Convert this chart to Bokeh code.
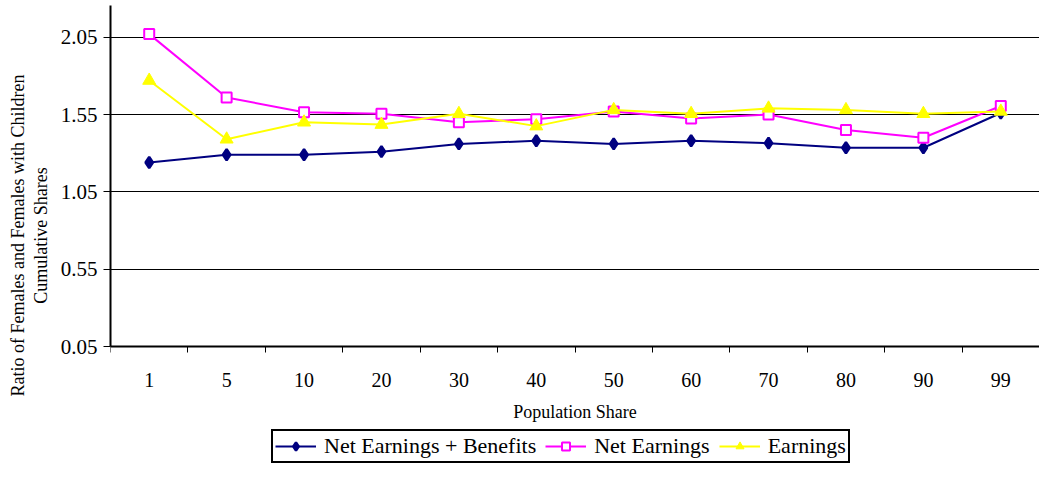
from bokeh.plotting import figure
from bokeh.models import (Range1d, FixedTicker, Legend, LegendItem, LinearAxis,
                          ColumnDataSource, PrintfTickFormatter)
from bokeh.embed import file_html
from bokeh.resources import INLINE

# ---- data ----
categories = ["1", "5", "10", "20", "30", "40", "50", "60", "70", "80", "90", "99"]
net_earnings_benefits = [1.24, 1.29, 1.29, 1.31, 1.36, 1.38, 1.36, 1.38, 1.365, 1.335, 1.335, 1.56]
net_earnings = [2.07, 1.66, 1.565, 1.555, 1.50, 1.52, 1.57, 1.525, 1.55, 1.45, 1.40, 1.605]
earnings = [1.77, 1.39, 1.50, 1.485, 1.555, 1.475, 1.58, 1.555, 1.59, 1.58, 1.555, 1.57]
y_ticks = [0.05, 0.55, 1.05, 1.55, 2.05]
series_names = ["Net Earnings + Benefits", "Net Earnings", "Earnings"]
y_title_lines = ["Ratio of Females and Females with Children", "Cumulative Shares"]
x_title = "Population Share"

FONT = "Liberation Serif"
Y_MIN, Y_MAX = 0.05, 2.255
# extra room below the axis (inside the frame) for tick labels, title and legend
Y_LOW = Y_MIN - 119.0 / ((346 - 5) / (Y_MAX - Y_MIN))

x_pos = [i + 0.5 for i in range(len(categories))]
src = ColumnDataSource(dict(x=x_pos, neb=net_earnings_benefits, ne=net_earnings, e=earnings))

p = figure(width=1039, height=465, x_range=Range1d(0, len(categories)),
           y_range=Range1d(Y_LOW, Y_MAX), output_backend="svg", toolbar_location=None,
           min_border_left=110, min_border_right=0, min_border_top=5, min_border_bottom=0,
           outline_line_color=None, background_fill_color="white")

# x axis pinned at the bottom of the value range
xa = p.xaxis[0]
xa.fixed_location = Y_MIN
xa.ticker = FixedTicker(ticks=x_pos, minor_ticks=list(range(len(categories) + 1)))
xa.major_label_overrides = {x: c for x, c in zip(x_pos, categories)}
xa.major_tick_out = 0
xa.major_tick_in = 0
xa.minor_tick_out = 6
xa.minor_tick_in = 0
xa.minor_tick_line_color = "black"
xa.minor_tick_line_width = 1
xa.major_label_standoff = 20
xa.major_label_text_font = FONT
xa.major_label_text_font_size = "20px"
xa.major_label_text_color = "black"
xa.axis_line_color = "black"
xa.axis_line_width = 2
xa.axis_label = x_title
xa.axis_label_text_font = FONT
xa.axis_label_text_font_size = "18px"
xa.axis_label_text_font_style = "normal"
xa.axis_label_text_color = "black"
xa.axis_label_standoff = 12

ya = p.yaxis[0]
ya.bounds = (Y_MIN, Y_MAX)
ya.ticker = FixedTicker(ticks=y_ticks, minor_ticks=[])
ya.formatter = PrintfTickFormatter(format="%.2f")
ya.major_tick_out = 7
ya.major_tick_in = 0
ya.major_tick_line_color = "black"
ya.major_tick_line_width = 1
ya.major_label_standoff = 6
ya.major_label_text_font = FONT
ya.major_label_text_font_size = "21px"
ya.major_label_text_color = "black"
ya.axis_line_color = "black"
ya.axis_line_width = 2
ya.axis_label = y_title_lines[1]
ya.axis_label_text_font = FONT
ya.axis_label_text_font_size = "18px"
ya.axis_label_text_font_style = "normal"
ya.axis_label_text_color = "black"
ya.axis_label_standoff = 7

# outer line of the y title: an axis without ticks
ya2 = LinearAxis(ticker=FixedTicker(ticks=[], minor_ticks=[]), bounds=(Y_MIN, Y_MAX),
                 axis_line_color=None, major_tick_line_color=None, minor_tick_line_color=None,
                 major_label_text_font_size="0px", major_tick_out=0, major_label_standoff=0,
                 axis_label=y_title_lines[0], axis_label_text_font=FONT,
                 axis_label_text_font_size="18px", axis_label_text_font_style="normal",
                 axis_label_text_color="black", axis_label_standoff=0)
p.add_layout(ya2, "left")

p.xgrid.grid_line_color = None
p.ygrid.grid_line_color = "black"
p.ygrid.grid_line_width = 1

# series
l1 = p.line("x", "neb", source=src, line_color="#000080", line_width=2)
m1 = p.scatter("x", "neb", source=src, marker="diamond", size=11,
               fill_color="#000080", line_color="#000080", line_width=2.5)
l2 = p.line("x", "ne", source=src, line_color="#FF00FF", line_width=2)
m2 = p.scatter("x", "ne", source=src, marker="square", size=10,
               fill_color="white", line_color="#FF00FF", line_width=2)
l3 = p.line("x", "e", source=src, line_color="#FFFF00", line_width=2)
m3 = p.scatter("x", "e", source=src, marker="triangle", size=13,
               fill_color="#FFFF00", line_color="#FFFF00")

legend = Legend(items=[LegendItem(label=series_names[0], renderers=[l1, m1]),
                       LegendItem(label=series_names[1], renderers=[l2, m2]),
                       LegendItem(label=series_names[2], renderers=[l3, m3])],
                orientation="horizontal", location=(161, 2),
                label_text_font=FONT, label_text_font_size="22px", label_text_color="black",
                glyph_width=41, label_standoff=8, spacing=9, padding=2,
                border_line_color="black", border_line_width=2, border_line_alpha=1.0,
                margin=0, background_fill_color="white")
p.add_layout(legend, "center")

open("out.html", "w").write(file_html(p, INLINE))
